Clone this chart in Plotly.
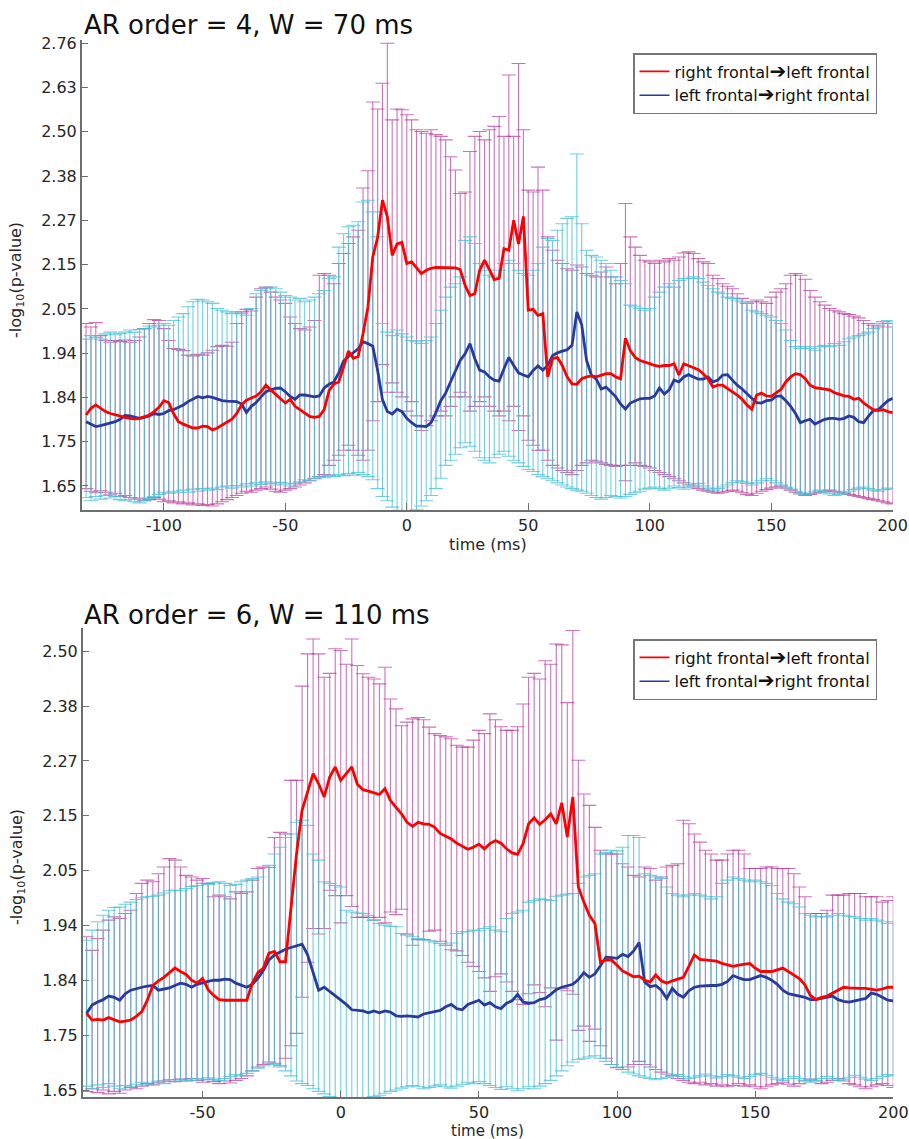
import math
import plotly.graph_objects as go

# ------------------------------------------------------------------ data
# time samples (ms)
t_top = list(range(-132, 201, 2))
t_bot = list(range(-92, 201, 2))

# ---- panel 1: AR order = 4, W = 70 ms
red_top = [
    1.792, 1.806, 1.813, 1.806, 1.799, 1.795, 1.792, 1.789, 1.787, 1.785,
    1.784, 1.785, 1.789, 1.792, 1.799, 1.808, 1.822, 1.818, 1.795, 1.778,
    1.773, 1.769, 1.765, 1.765, 1.769, 1.768, 1.761, 1.765, 1.771, 1.776,
    1.783, 1.795, 1.813, 1.823, 1.828, 1.832, 1.841, 1.855, 1.845, 1.836,
    1.827, 1.817, 1.825, 1.810, 1.803, 1.795, 1.789, 1.787, 1.789, 1.803,
    1.843, 1.858, 1.862, 1.895, 1.930, 1.914, 1.918, 1.970, 2.031, 2.153,
    2.203, 2.300, 2.256, 2.157, 2.186, 2.190, 2.137, 2.141, 2.127, 2.112,
    2.120, 2.125, 2.127, 2.127, 2.127, 2.127, 2.126, 2.122, 2.083, 2.059,
    2.063, 2.120, 2.145, 2.122, 2.097, 2.100, 2.174, 2.170, 2.247, 2.186,
    2.257, 2.024, 2.026, 2.012, 2.016, 1.873, 1.913, 1.916, 1.898, 1.873,
    1.858, 1.857, 1.869, 1.873, 1.875, 1.873, 1.877, 1.880, 1.880, 1.873,
    1.869, 1.959, 1.931, 1.916, 1.909, 1.906, 1.902, 1.898, 1.896, 1.898,
    1.898, 1.902, 1.877, 1.902, 1.898, 1.893, 1.889, 1.880, 1.869, 1.851,
    1.855, 1.855, 1.848, 1.841, 1.834, 1.825, 1.813, 1.804, 1.834, 1.838,
    1.832, 1.831, 1.838, 1.846, 1.862, 1.873, 1.880, 1.878, 1.869, 1.855,
    1.850, 1.848, 1.847, 1.845, 1.839, 1.835, 1.832, 1.831, 1.825, 1.827,
    1.817, 1.810, 1.803, 1.801, 1.803, 1.799, 1.797,
]
blue_top = [
    1.778, 1.773, 1.768, 1.770, 1.773, 1.775, 1.778, 1.783, 1.791, 1.790,
    1.787, 1.785, 1.787, 1.790, 1.795, 1.793, 1.795, 1.801, 1.803, 1.808,
    1.813, 1.820, 1.825, 1.831, 1.828, 1.831, 1.829, 1.825, 1.822, 1.821,
    1.820, 1.820, 1.815, 1.797, 1.810, 1.818, 1.830, 1.841, 1.845, 1.848,
    1.849, 1.841, 1.831, 1.825, 1.834, 1.834, 1.832, 1.830, 1.832, 1.849,
    1.857, 1.862, 1.882, 1.908, 1.918, 1.926, 1.935, 1.951, 1.947, 1.941,
    1.887, 1.824, 1.799, 1.794, 1.804, 1.799, 1.785, 1.776, 1.769, 1.769,
    1.768, 1.776, 1.797, 1.822, 1.838, 1.862, 1.887, 1.909, 1.924, 1.947,
    1.913, 1.888, 1.884, 1.873, 1.866, 1.864, 1.891, 1.916, 1.898, 1.882,
    1.877, 1.873, 1.887, 1.897, 1.888, 1.898, 1.920, 1.926, 1.930, 1.933,
    1.943, 2.020, 1.990, 1.909, 1.877, 1.868, 1.847, 1.851, 1.841, 1.830,
    1.815, 1.804, 1.817, 1.822, 1.826, 1.827, 1.827, 1.832, 1.849, 1.836,
    1.845, 1.866, 1.862, 1.873, 1.878, 1.873, 1.868, 1.868, 1.873, 1.862,
    1.866, 1.877, 1.878, 1.866, 1.855, 1.847, 1.838, 1.827, 1.818, 1.817,
    1.822, 1.823, 1.831, 1.832, 1.822, 1.810, 1.795, 1.776, 1.780, 1.783,
    1.773, 1.778, 1.783, 1.785, 1.785, 1.783, 1.785, 1.790, 1.787, 1.778,
    1.776, 1.789, 1.801, 1.803, 1.813, 1.822, 1.827,
]
red_top_hi = [
    1.993, 1.985, 1.995, 1.965, 1.954, 1.950, 1.954, 1.952, 1.955, 1.950,
    1.954, 1.962, 1.981, 1.993, 2.002, 2.000, 1.981, 1.954, 1.936, 1.934,
    1.931, 1.921, 1.919, 1.923, 1.921, 1.926, 1.932, 1.940, 1.943, 1.941,
    1.950, 1.993, 2.020, 2.026, 2.022, 2.055, 2.075, 2.079, 2.067, 2.055,
    2.048, 2.040, 2.008, 1.993, 1.981, 1.978, 1.985, 2.000, 2.108, 2.112,
    2.108, 2.087, 2.137, 2.162, 2.187, 2.204, 2.221, 2.333, 2.380, 2.578,
    2.557, 2.635, 2.760, 2.525, 2.557, 2.555, 2.540, 2.525, 2.496, 2.491,
    2.486, 2.496, 2.482, 2.477, 2.467, 2.419, 2.382, 2.318, 2.322, 2.434,
    2.477, 2.491, 2.467, 2.496, 2.506, 2.535, 2.477, 2.660, 2.477, 2.696,
    2.496, 2.327, 2.322, 2.390, 2.327, 2.204, 2.170, 2.145, 2.137, 2.124,
    2.120, 2.133, 2.128, 2.112, 2.108, 2.104, 2.116, 2.128, 2.104, 2.087,
    2.137, 2.291, 2.204, 2.178, 2.157, 2.145, 2.141, 2.137, 2.145, 2.141,
    2.149, 2.145, 2.153, 2.163, 2.166, 2.162, 2.149, 2.141, 2.137, 2.108,
    2.100, 2.087, 2.081, 2.075, 2.063, 2.052, 2.040, 2.044, 2.048, 2.044,
    2.040, 2.055, 2.067, 2.075, 2.087, 2.108, 2.112, 2.108, 2.098, 2.071,
    2.055, 2.044, 2.036, 2.028, 2.024, 2.020, 2.016, 2.014, 2.010, 2.006,
    2.000, 1.993, 1.989, 1.985, 1.997, 1.993, 1.985,
]
red_top_lo = [
    1.645, 1.640, 1.637, 1.641, 1.638, 1.633, 1.636, 1.630, 1.632, 1.628,
    1.625, 1.627, 1.622, 1.624, 1.628, 1.625, 1.620, 1.622, 1.618, 1.620,
    1.616, 1.618, 1.614, 1.616, 1.613, 1.615, 1.612, 1.616, 1.620, 1.624,
    1.628, 1.632, 1.636, 1.640, 1.638, 1.642, 1.645, 1.648, 1.644, 1.640,
    1.638, 1.642, 1.645, 1.648, 1.652, 1.656, 1.660, 1.664, 1.668, 1.672,
    1.690, 1.700, 1.710, 1.720, 1.730, 1.720, 1.710, 1.700, 1.720, 1.780,
    1.820, 1.900, 1.840, 1.860, 1.840, 1.830, 1.800, 1.820, 1.790, 1.760,
    1.770, 1.780, 1.790, 1.800, 1.790, 1.810, 1.830, 1.840, 1.830, 1.800,
    1.810, 1.820, 1.830, 1.810, 1.800, 1.790, 1.800, 1.780, 1.810, 1.760,
    1.790, 1.740, 1.730, 1.720, 1.720, 1.700, 1.690, 1.685, 1.680, 1.676,
    1.672, 1.680, 1.690, 1.695, 1.700, 1.698, 1.695, 1.692, 1.690, 1.688,
    1.690, 1.660, 1.690, 1.695, 1.690, 1.688, 1.685, 1.680, 1.676, 1.672,
    1.668, 1.664, 1.660, 1.656, 1.652, 1.648, 1.645, 1.642, 1.640, 1.638,
    1.636, 1.638, 1.640, 1.642, 1.640, 1.637, 1.634, 1.632, 1.636, 1.640,
    1.643, 1.646, 1.648, 1.650, 1.646, 1.642, 1.638, 1.635, 1.632, 1.634,
    1.636, 1.638, 1.640, 1.642, 1.640, 1.638, 1.636, 1.634, 1.632, 1.630,
    1.628, 1.626, 1.624, 1.622, 1.620, 1.618, 1.616,
]
blue_top_hi = [
    1.957, 1.965, 1.961, 1.957, 1.969, 1.973, 1.967, 1.970, 1.973, 1.978,
    1.973, 1.979, 1.981, 1.987, 1.985, 1.989, 1.993, 1.989, 2.000, 2.008,
    2.016, 2.032, 2.044, 2.050, 2.048, 2.044, 2.040, 2.028, 2.024, 2.020,
    2.016, 2.020, 2.016, 2.012, 2.028, 2.063, 2.071, 2.077, 2.079, 2.075,
    2.067, 2.059, 2.055, 2.048, 2.052, 2.044, 2.048, 2.055, 2.063, 2.071,
    2.100, 2.104, 2.178, 2.212, 2.230, 2.234, 2.243, 2.295, 2.300, 2.269,
    2.204, 1.993, 1.973, 1.965, 1.978, 1.969, 1.962, 1.954, 1.951, 1.947,
    1.954, 1.962, 1.993, 2.024, 2.055, 2.079, 2.087, 2.104, 2.195, 2.204,
    2.187, 2.137, 2.120, 2.108, 2.104, 2.120, 2.137, 2.145, 2.137, 2.120,
    2.112, 2.108, 2.120, 2.137, 2.178, 2.200, 2.195, 2.221, 2.238, 2.252,
    2.256, 2.427, 2.238, 2.170, 2.157, 2.153, 2.145, 2.137, 2.120, 2.104,
    2.095, 2.087, 2.036, 2.032, 2.028, 2.024, 2.028, 2.055, 2.067, 2.079,
    2.087, 2.079, 2.095, 2.100, 2.100, 2.104, 2.100, 2.091, 2.083, 2.075,
    2.067, 2.063, 2.055, 2.052, 2.048, 2.044, 2.040, 2.024, 2.020, 2.016,
    2.012, 2.008, 2.000, 1.993, 1.978, 1.954, 1.940, 1.936, 1.940, 1.936,
    1.932, 1.940, 1.943, 1.940, 1.947, 1.943, 1.951, 1.958, 1.962, 1.965,
    1.969, 1.973, 1.981, 1.989, 1.993, 2.000, 1.997,
]
blue_top_lo = [
    1.628, 1.622, 1.630, 1.625, 1.632, 1.627, 1.630, 1.624, 1.622, 1.628,
    1.620, 1.618, 1.622, 1.626, 1.630, 1.634, 1.638, 1.636, 1.640, 1.637,
    1.642, 1.638, 1.644, 1.640, 1.645, 1.642, 1.646, 1.643, 1.648, 1.650,
    1.646, 1.651, 1.648, 1.654, 1.650, 1.656, 1.653, 1.658, 1.655, 1.652,
    1.657, 1.654, 1.650, 1.655, 1.658, 1.662, 1.660, 1.665, 1.668, 1.666,
    1.670, 1.668, 1.672, 1.670, 1.674, 1.671, 1.676, 1.672, 1.668, 1.662,
    1.645, 1.630, 1.622, 1.610, 1.604, 1.600, 1.598, 1.600, 1.605, 1.612,
    1.622, 1.632, 1.645, 1.665, 1.690, 1.700, 1.712, 1.725, 1.735, 1.728,
    1.718, 1.705, 1.700, 1.695, 1.705, 1.712, 1.718, 1.708, 1.700, 1.695,
    1.688, 1.682, 1.678, 1.672, 1.668, 1.664, 1.660, 1.656, 1.652, 1.648,
    1.645, 1.642, 1.640, 1.636, 1.632, 1.628, 1.625, 1.628, 1.632, 1.630,
    1.627, 1.630, 1.634, 1.637, 1.640, 1.644, 1.646, 1.648, 1.645, 1.642,
    1.646, 1.650, 1.647, 1.644, 1.648, 1.652, 1.655, 1.650, 1.646, 1.642,
    1.645, 1.648, 1.652, 1.656, 1.660, 1.658, 1.655, 1.652, 1.656, 1.660,
    1.664, 1.660, 1.656, 1.652, 1.648, 1.644, 1.640, 1.637, 1.634, 1.636,
    1.640, 1.642, 1.638, 1.635, 1.632, 1.634, 1.637, 1.640, 1.643, 1.646,
    1.648, 1.645, 1.642, 1.640, 1.643, 1.646, 1.644,
]

# ---- panel 2: AR order = 6, W = 110 ms
red_bot = [
    1.773, 1.762, 1.763, 1.762, 1.766, 1.763, 1.759, 1.760, 1.762, 1.768,
    1.776, 1.795, 1.820, 1.828, 1.834, 1.842, 1.850, 1.844, 1.839, 1.829,
    1.824, 1.832, 1.813, 1.803, 1.796, 1.795, 1.795, 1.795, 1.794, 1.795,
    1.824, 1.842, 1.850, 1.876, 1.879, 1.861, 1.861, 1.954, 2.059, 2.145,
    2.182, 2.220, 2.199, 2.172, 2.213, 2.234, 2.206, 2.220, 2.234, 2.198,
    2.187, 2.184, 2.180, 2.177, 2.189, 2.165, 2.151, 2.138, 2.121, 2.113,
    2.121, 2.118, 2.117, 2.111, 2.099, 2.094, 2.088, 2.080, 2.074, 2.068,
    2.072, 2.078, 2.069, 2.079, 2.085, 2.080, 2.069, 2.061, 2.058, 2.079,
    2.118, 2.130, 2.117, 2.126, 2.138, 2.118, 2.160, 2.092, 2.172, 1.996,
    1.968, 1.944, 1.929, 1.860, 1.864, 1.864, 1.855, 1.845, 1.840, 1.835,
    1.836, 1.829, 1.826, 1.838, 1.828, 1.824, 1.828, 1.831, 1.834, 1.853,
    1.873, 1.865, 1.864, 1.864, 1.862, 1.858, 1.855, 1.853, 1.855, 1.857,
    1.858, 1.850, 1.844, 1.844, 1.844, 1.847, 1.850, 1.844, 1.838, 1.832,
    1.821, 1.803, 1.796, 1.800, 1.802, 1.807, 1.813, 1.817, 1.816, 1.815,
    1.815, 1.815, 1.813, 1.812, 1.814, 1.817, 1.817,
]
blue_bot = [
    1.773, 1.787, 1.792, 1.796, 1.802, 1.800, 1.795, 1.806, 1.812, 1.815,
    1.817, 1.819, 1.820, 1.812, 1.814, 1.816, 1.820, 1.824, 1.822, 1.817,
    1.822, 1.825, 1.827, 1.829, 1.829, 1.831, 1.830, 1.824, 1.820, 1.817,
    1.822, 1.832, 1.846, 1.864, 1.873, 1.878, 1.883, 1.886, 1.889, 1.892,
    1.873, 1.842, 1.812, 1.817, 1.810, 1.802, 1.795, 1.788, 1.779, 1.778,
    1.777, 1.774, 1.777, 1.774, 1.777, 1.775, 1.769, 1.768, 1.769, 1.768,
    1.767, 1.772, 1.774, 1.776, 1.778, 1.784, 1.788, 1.781, 1.779, 1.788,
    1.791, 1.795, 1.787, 1.791, 1.784, 1.781, 1.790, 1.794, 1.805, 1.792,
    1.790, 1.791, 1.796, 1.798, 1.805, 1.813, 1.817, 1.820, 1.822, 1.830,
    1.842, 1.834, 1.840, 1.854, 1.869, 1.868, 1.867, 1.874, 1.870, 1.880,
    1.895, 1.826, 1.818, 1.820, 1.812, 1.798, 1.815, 1.805, 1.800, 1.811,
    1.817, 1.819, 1.820, 1.820, 1.820, 1.822, 1.827, 1.837, 1.833, 1.830,
    1.830, 1.834, 1.837, 1.834, 1.829, 1.822, 1.812, 1.806, 1.804, 1.803,
    1.800, 1.796, 1.796, 1.798, 1.800, 1.802, 1.796, 1.793, 1.792, 1.794,
    1.795, 1.798, 1.807, 1.805, 1.800, 1.795, 1.794,
]
red_bot_hi = [
    1.905, 1.881, 1.902, 1.917, 1.935, 1.941, 1.938, 1.947, 1.953, 1.984,
    2.003, 2.009, 2.006, 2.021, 2.034, 2.050, 2.047, 2.034, 2.018, 2.015,
    2.009, 2.012, 2.003, 1.978, 1.981, 1.978, 1.974, 1.987, 1.984, 1.987,
    2.009, 2.031, 2.034, 2.033, 2.091, 2.101, 2.098, 2.206, 2.206, 2.410,
    2.484, 2.519, 2.484, 2.430, 2.439, 2.496, 2.492, 2.460, 2.519, 2.457,
    2.438, 2.430, 2.426, 2.415, 2.453, 2.381, 2.359, 2.322, 2.330, 2.337,
    2.340, 2.335, 2.319, 2.305, 2.301, 2.298, 2.294, 2.280, 2.276, 2.276,
    2.291, 2.312, 2.305, 2.348, 2.335, 2.320, 2.312, 2.312, 2.320, 2.370,
    2.430, 2.439, 2.426, 2.468, 2.460, 2.507, 2.505, 2.373, 2.539, 2.248,
    2.178, 2.155, 2.111, 2.066, 2.059, 2.059, 2.059, 2.040, 2.034, 2.018,
    2.015, 2.034, 2.031, 2.009, 2.015, 2.034, 2.037, 2.040, 2.125, 2.118,
    2.098, 2.082, 2.066, 2.059, 2.047, 2.047, 2.059, 2.066, 2.066, 2.059,
    2.031, 2.031, 2.031, 2.034, 2.034, 2.031, 2.031, 2.031, 2.021, 1.996,
    1.978, 1.947, 1.947, 1.947, 1.953, 1.981, 1.981, 1.981, 1.984, 1.984,
    1.984, 1.978, 1.978, 1.978, 1.968, 1.971, 1.978,
]
red_bot_lo = [
    1.648, 1.652, 1.646, 1.650, 1.644, 1.648, 1.645, 1.650, 1.654, 1.652,
    1.656, 1.660, 1.658, 1.662, 1.664, 1.666, 1.663, 1.667, 1.664, 1.668,
    1.665, 1.662, 1.666, 1.663, 1.660, 1.664, 1.661, 1.665, 1.668, 1.672,
    1.680, 1.686, 1.690, 1.694, 1.692, 1.688, 1.700, 1.720, 1.740, 1.800,
    1.860, 1.920, 1.910, 1.920, 1.990, 1.980, 1.930, 1.980, 1.960, 1.940,
    1.940, 1.940, 1.935, 1.940, 1.930, 1.950, 1.945, 1.955, 1.910, 1.890,
    1.900, 1.900, 1.915, 1.917, 1.897, 1.890, 1.882, 1.880, 1.872, 1.860,
    1.853, 1.844, 1.833, 1.810, 1.835, 1.840, 1.826, 1.810, 1.796, 1.788,
    1.806, 1.821, 1.808, 1.784, 1.816, 1.729, 1.815, 1.811, 1.805, 1.745,
    1.752, 1.727, 1.747, 1.720, 1.700, 1.690, 1.685, 1.682, 1.686, 1.690,
    1.695, 1.690, 1.686, 1.682, 1.678, 1.675, 1.672, 1.668, 1.665, 1.662,
    1.660, 1.662, 1.658, 1.660, 1.656, 1.658, 1.655, 1.657, 1.660, 1.656,
    1.658, 1.655, 1.652, 1.655, 1.658, 1.660, 1.662, 1.659, 1.656, 1.660,
    1.664, 1.667, 1.664, 1.660, 1.662, 1.665, 1.668, 1.664, 1.660, 1.658,
    1.655, 1.652, 1.655, 1.658, 1.660, 1.657, 1.654,
]
blue_bot_hi = [
    1.899, 1.917, 1.932, 1.944, 1.953, 1.958, 1.959, 1.964, 1.968, 1.973,
    1.976, 1.978, 1.979, 1.981, 1.985, 1.989, 1.990, 1.989, 1.993, 1.997,
    1.999, 2.003, 2.001, 2.004, 2.006, 2.003, 1.999, 2.001, 2.006, 2.009,
    2.012, 2.015, 2.033, 2.037, 2.059, 2.072, 2.091, 2.098, 2.121, 2.125,
    2.115, 2.059, 2.047, 2.006, 2.003, 1.999, 1.996, 1.953, 1.950, 1.948,
    1.947, 1.944, 1.935, 1.929, 1.926, 1.924, 1.923, 1.911, 1.908, 1.905,
    1.902, 1.900, 1.899, 1.896, 1.893, 1.890, 1.894, 1.911, 1.914, 1.914,
    1.917, 1.916, 1.920, 1.923, 1.917, 1.914, 1.938, 1.947, 1.950, 1.953,
    1.968, 1.971, 1.974, 1.973, 1.971, 1.979, 1.981, 1.983, 1.984, 2.003,
    2.015, 2.018, 2.021, 2.059, 2.062, 2.066, 2.065, 2.072, 2.095, 2.095,
    2.091, 2.021, 2.018, 2.015, 2.012, 1.996, 1.984, 1.981, 1.978, 1.981,
    1.984, 1.981, 1.978, 1.974, 1.978, 2.003, 2.009, 2.015, 2.012, 2.009,
    2.006, 2.009, 2.006, 2.003, 1.999, 1.984, 1.974, 1.968, 1.965, 1.959,
    1.947, 1.944, 1.941, 1.942, 1.941, 1.944, 1.947, 1.944, 1.942, 1.941,
    1.938, 1.935, 1.938, 1.935, 1.932, 1.929, 1.932,
]
blue_bot_lo = [
    1.656, 1.652, 1.658, 1.654, 1.660, 1.656, 1.652, 1.657, 1.655, 1.659,
    1.662, 1.658, 1.661, 1.664, 1.660, 1.663, 1.666, 1.664, 1.667, 1.665,
    1.668, 1.666, 1.669, 1.667, 1.665, 1.668, 1.671, 1.674, 1.672, 1.676,
    1.680, 1.684, 1.688, 1.692, 1.690, 1.686, 1.680, 1.672, 1.664, 1.660,
    1.657, 1.652, 1.648, 1.644, 1.640, 1.636, 1.632, 1.630, 1.628, 1.630,
    1.632, 1.636, 1.640, 1.642, 1.645, 1.648, 1.650, 1.653, 1.655, 1.657,
    1.655, 1.652, 1.654, 1.656, 1.658, 1.655, 1.653, 1.656, 1.659, 1.662,
    1.660, 1.663, 1.660, 1.657, 1.654, 1.651, 1.655, 1.652, 1.649, 1.652,
    1.655, 1.652, 1.656, 1.660, 1.665, 1.672, 1.680, 1.688, 1.694, 1.698,
    1.700, 1.702, 1.704, 1.700, 1.695, 1.690, 1.686, 1.682, 1.678, 1.675,
    1.672, 1.670, 1.668, 1.666, 1.668, 1.670, 1.672, 1.674, 1.671, 1.668,
    1.670, 1.672, 1.675, 1.672, 1.669, 1.671, 1.674, 1.672, 1.670, 1.668,
    1.671, 1.674, 1.676, 1.673, 1.670, 1.667, 1.665, 1.668, 1.671, 1.668,
    1.665, 1.662, 1.665, 1.668, 1.671, 1.668, 1.665, 1.667, 1.670, 1.673,
    1.670, 1.667, 1.665, 1.668, 1.671, 1.674, 1.672,
]

y_tick_labels = ["1.65", "1.75", "1.84", "1.94", "2.05", "2.15",
                 "2.27", "2.38", "2.50", "2.63", "2.76"]
x_ticks_top = [-100, -50, 0, 50, 100, 150, 200]
x_ticks_bot = [-50, 0, 50, 100, 150, 200]

ARROW = "<span style='font-size:20px'>\u2794</span>"
name_red = "right frontal" + ARROW + "left frontal"
name_blue = "left frontal" + ARROW + "right frontal"
titles = ["AR order = 4, W = 70 ms", "AR order = 6, W = 110 ms"]

# ------------------------------------------------------------------ styling
W, H = 909, 1139
FONT = "DejaVu Sans"
RED = "rgb(255,0,0)"
BLUE = "rgb(40,58,158)"
PINK = "rgba(185,60,155,0.72)"
CYAN = "rgba(70,192,215,0.78)"

for arr in (red_top, blue_top, red_top_hi, red_top_lo, blue_top_hi, blue_top_lo):
    assert len(arr) == len(t_top), len(arr)
for arr in (red_bot, blue_bot, red_bot_hi, red_bot_lo, blue_bot_hi, blue_bot_lo):
    assert len(arr) == len(t_bot), len(arr)

# geometric tick positions (the axis is logarithmic, ticks evenly spaced)
tick_vals = [1.65 * (2.76 / 1.65) ** (k / 10) for k in range(11)]


def px(x):
    return x / W


def py(y):
    return 1 - y / H


def tick_text(vals):
    return [str(v) for v in vals]


fig = go.Figure()


def err_trace(t, mean, hi, lo, color, xa, ya):
    return go.Scatter(
        x=t, y=mean, mode="markers", xaxis=xa, yaxis=ya,
        marker=dict(size=1, color="rgba(0,0,0,0)"),
        error_y=dict(type="data", symmetric=False,
                     array=[h - m for h, m in zip(hi, mean)],
                     arrayminus=[m - l for m, l in zip(mean, lo)],
                     color=color, thickness=1.1, width=7),
        showlegend=False, hoverinfo="skip")


def line_trace(t, y, color, xa, ya):
    return go.Scatter(x=t, y=y, mode="lines", xaxis=xa, yaxis=ya,
                      line=dict(color=color, width=2.8),
                      showlegend=False, hoverinfo="skip")


def legend_entry(color, name, xa, ya, legend, rank):
    return go.Scatter(x=[None], y=[None], mode="lines", name=name,
                      xaxis=xa, yaxis=ya, line=dict(color=color, width=1.6),
                      legend=legend, legendrank=rank, showlegend=True)


panels = [
    (t_top, red_top, red_top_hi, red_top_lo, blue_top, blue_top_hi, blue_top_lo, "x", "y", "legend"),
    (t_bot, red_bot, red_bot_hi, red_bot_lo, blue_bot, blue_bot_hi, blue_bot_lo, "x2", "y2", "legend2"),
]
for (t, r, rh, rl, b, bh, bl, xa, ya, lg) in panels:
    fig.add_trace(err_trace(t, r, rh, rl, PINK, xa, ya))
    fig.add_trace(err_trace(t, b, bh, bl, CYAN, xa, ya))
    fig.add_trace(line_trace(t, b, BLUE, xa, ya))
    fig.add_trace(line_trace(t, r, RED, xa, ya))
    fig.add_trace(legend_entry(RED, name_red, xa, ya, lg, 1))
    fig.add_trace(legend_entry(BLUE, name_blue, xa, ya, lg, 2))

axis_common = dict(showline=True, linecolor="#6e6e6e", linewidth=1.5,
                   ticks="inside", ticklen=7, tickwidth=1.3, tickcolor="#6e6e6e",
                   showgrid=False, zeroline=False, automargin=False,
                   tickfont=dict(family=FONT, size=16, color="#262626"))

legend_common = dict(xanchor="left", yanchor="top", bgcolor="white",
                     bordercolor="#777", borderwidth=1.5,
                     font=dict(family=FONT, size=16, color="#111"))

fig.update_layout(
    width=W, height=H, margin=dict(l=0, r=0, t=0, b=0),
    paper_bgcolor="white", plot_bgcolor="white",
    xaxis=dict(domain=[px(81.7), px(892.7)], anchor="y", range=[-133.8, 200],
               tickvals=x_ticks_top, ticktext=tick_text(x_ticks_top), **axis_common),
    yaxis=dict(domain=[py(510), py(40)], anchor="x", type="log",
               range=[math.log10(1.6046), math.log10(2.7706)],
               tickvals=tick_vals, ticktext=y_tick_labels, **axis_common),
    xaxis2=dict(domain=[px(82.7), px(893.3)], anchor="y2", range=[-93.4, 200],
                tickvals=x_ticks_bot, ticktext=tick_text(x_ticks_bot), **axis_common),
    yaxis2=dict(domain=[py(1097.3), py(628)], anchor="x2", type="log",
                range=[math.log10(1.6388), math.log10(2.545)],
                tickvals=tick_vals[:9], ticktext=y_tick_labels[:9], **axis_common),
    legend=dict(x=px(633), y=py(53), **legend_common),
    legend2=dict(x=px(633), y=py(639), **legend_common),
    showlegend=True,
)

ann = []
ann.append(dict(text=titles[0], x=px(82), y=py(25), xref="paper", yref="paper",
                xanchor="left", yanchor="middle", showarrow=False,
                font=dict(family=FONT, size=26, color="#111")))
ann.append(dict(text=titles[1], x=px(82), y=py(615), xref="paper", yref="paper",
                xanchor="left", yanchor="middle", showarrow=False,
                font=dict(family=FONT, size=26, color="#111")))
for yc, fs in ((544, 16), (1130.5, 15)):
    ann.append(dict(text="time (ms)", x=px(487.5), y=py(yc), xref="paper", yref="paper",
                    xanchor="center", yanchor="middle", showarrow=False,
                    font=dict(family=FONT, size=fs, color="#262626")))
for yc in (280, 867):
    ann.append(dict(text="-log<sub>10</sub>(p-value)", x=px(17), y=py(yc),
                    xref="paper", yref="paper", xanchor="center", yanchor="middle",
                    textangle=-90, showarrow=False,
                    font=dict(family=FONT, size=16, color="#262626")))
fig.update_layout(annotations=ann)

fig.write_html("out.html")
